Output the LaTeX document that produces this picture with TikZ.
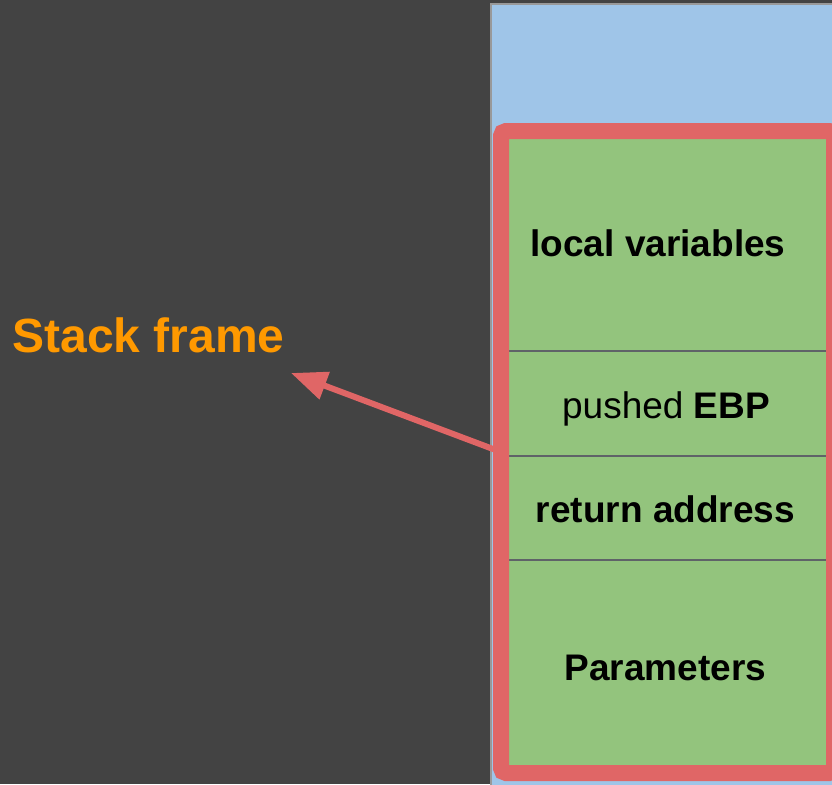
\documentclass[tikz,border=0pt]{standalone}
\usepackage{fontspec}
\setmainfont{Liberation Sans}
\usetikzlibrary{arrows.meta}
\definecolor{bgdark}{HTML}{434343}
\definecolor{stackblue}{HTML}{9FC5E8}
\definecolor{cellgreen}{HTML}{93C47D}
\definecolor{framered}{HTML}{E06666}
\definecolor{labelorange}{HTML}{FF9900}
\definecolor{divgrey}{HTML}{5F6368}
\begin{document}
\begin{tikzpicture}[x=1pt,y=-1pt,
  cell/.style={fill=cellgreen, draw=none, minimum width=317pt, inner sep=0pt, outer sep=0pt, anchor=north west},
  celltext/.style={font=\fontsize{37}{42}\selectfont, text=black},
  divider/.style={draw=divgrey, line width=2pt},
  frameline/.style={draw=framered, line width=16pt, rounded corners=5pt, outer sep=0pt},
  pointer/.style={draw=framered, line width=6pt, -{Triangle[length=36pt,width=28pt]}}
]
\useasboundingbox (0,0) rectangle (832,784);
\clip (0,0) rectangle (832,784);
\fill[bgdark] (0,0) rectangle (832,784);
% stack column
\node[fill=stackblue, draw=gray!80, line width=1.2pt, outer sep=0pt, minimum width=360pt, minimum height=800pt, anchor=north west, inner sep=0pt] (stack) at (491,4) {};
% cells
\node[cell, minimum height=212pt] (c1) at (509,139) {};
\node[cell, minimum height=105pt] (c2) at (509,351) {};
\node[cell, minimum height=104pt] (c3) at (509,456) {};
\node[cell, minimum height=211pt] (c4) at (509,560) {};
\node[celltext] (t1) at (658,243) {\bfseries local variables};
\node[celltext] (t2) at (666,409) {pushed \bfseries EBP};
\node[celltext] (t3) at (665.5,509) {\bfseries return address};
\node[celltext] (t4) at (665.5,668) {\bfseries Parameters};
\draw[divider] (c1.south west) -- (c1.south east);
\draw[divider] (c2.south west) -- (c2.south east);
\draw[divider] (c3.south west) -- (c3.south east);
% red frame
\node[frameline, minimum width=333pt, minimum height=642pt, anchor=north west, inner sep=0pt] (frame) at (501,131) {};
% label and arrow
\node[font=\fontsize{48}{52}\selectfont\bfseries, text=labelorange] (label) at (148.5,335) {Stack frame};
\coordinate (tail) at (501,452);
\coordinate (tip) at (291,373);
\draw[pointer] (tail) -- (tip);
\end{tikzpicture}
\end{document}
